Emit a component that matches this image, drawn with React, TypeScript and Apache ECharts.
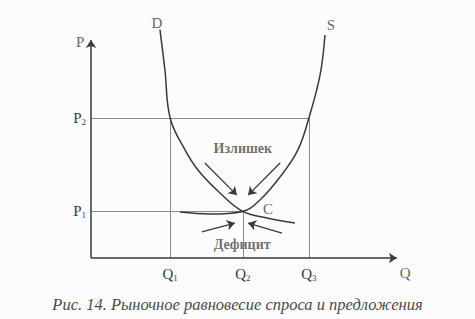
import React, { useEffect, useRef } from "react";
import * as echarts from "echarts";

// Demand curve D (Q, P)
const demandQ = [20.9, 22.4, 24, 28.5, 32.4, 39.1, 46, 53.3, 61.8];
const demandP = [98, 80.7, 60, 46.4, 37.8, 27.9, 20, 17.2, 15];
// Supply curve S (Q, P)
const supplyQ = [70.9, 69.4, 66, 62.7, 57.3, 51.2, 46, 36.1, 27];
const supplyP = [95.7, 78.5, 60, 46.4, 34.8, 24.9, 20, 18.9, 19.7];

// Tick values and labels
const qTicks = [24, 46, 66];
const qTickLabels = ["1", "2", "3"];
const pTicks = [20, 60];
const pTickLabels = ["1", "2"];

// Axis extents (arrow tips)
const pAxisTop = 93.6;
const qAxisEnd = 92.7;

// Adjustment arrows: [fromQ, fromP, toQ, toP]
const surplusArrows = [
  [34.5, 40.8, 44.2, 27.0],
  [57.3, 40.8, 47.6, 27.0],
];
const deficitArrows = [
  [33.6, 11.2, 43.6, 15.0],
  [57.9, 10.7, 47.6, 15.0],
];

// Annotations: [text, Q, P]
const annotations: [string, number, number][] = [
  ["P", -3.3, 92.7],
  ["Q", 95.2, -6.4],
  ["D", 20, 101],
  ["S", 72.7, 100],
  ["C", 53.6, 21],
];
const surplusLabel: [string, number, number] = ["Излишек", 46, 47.2];
const deficitLabel: [string, number, number] = ["Дефицит", 45.8, 6];

const caption = "Рис. 14. Рыночное равновесие спроса и предложения";

const INK = "#3a3a3a";
const GUIDE = "#8a8a8a";
const SERIF = "'Liberation Serif', 'DejaVu Serif', serif";

export default function App() {
  const ref = useRef<HTMLDivElement>(null);
  useEffect(() => {
    if (!ref.current) return;
    const chart = echarts.init(ref.current, undefined, { renderer: "svg" });
    const eq = [qTicks[1], pTicks[0]];
    const guides = [
      [[0, pTicks[1]], [qTicks[2], pTicks[1]]],
      [[qTicks[0], pTicks[1]], [qTicks[0], 0]],
      [[qTicks[2], pTicks[1]], [qTicks[2], 0]],
      [[0, pTicks[0]], [eq[0], eq[1]]],
      [[eq[0], eq[1]], [qTicks[1], 0]],
    ];
    const rich = {
      m: { fontFamily: SERIF, fontSize: 15, color: INK },
      s: { fontFamily: SERIF, fontSize: 9, color: INK, padding: [7, 0, 0, 0] },
    };
    chart.setOption({
      animation: false,
      backgroundColor: "#fcfcfc",
      title: {
        text: caption,
        left: "center",
        top: 291,
        textStyle: {
          fontFamily: SERIF,
          fontStyle: "italic",
          fontWeight: "normal",
          fontSize: 16.5,
          color: "#4a4a4a",
        },
      },
      grid: { left: 91, top: 25, right: 54, bottom: 61 },
      xAxis: {
        type: "value",
        min: 0,
        max: 100,
        axisLine: { show: false },
        axisTick: { show: false },
        splitLine: { show: false },
        axisLabel: {
          customValues: qTicks,
          margin: 8,
          formatter: (v: number) => {
            const i = qTicks.indexOf(v);
            return i < 0 ? "" : `{m|Q}{s|${qTickLabels[i]}}`;
          },
          rich,
        },
      },
      yAxis: {
        type: "value",
        min: 0,
        max: 100,
        axisLine: { show: false },
        axisTick: { show: false },
        splitLine: { show: false },
        axisLabel: {
          customValues: pTicks,
          margin: 5,
          formatter: (v: number) => {
            const i = pTicks.indexOf(v);
            return i < 0 ? "" : `{m|P}{s|${pTickLabels[i]}}`;
          },
          rich,
        },
      },
      series: [
        {
          type: "lines",
          coordinateSystem: "cartesian2d",
          silent: true,
          clip: false,
          z: 1,
          symbol: ["none", "none"],
          lineStyle: { color: GUIDE, width: 1, curveness: 0, opacity: 1 },
          data: guides.map((c) => ({ coords: c })),
        },
        {
          type: "lines",
          coordinateSystem: "cartesian2d",
          silent: true,
          clip: false,
          z: 3,
          symbol: ["none", "arrow"],
          symbolSize: 8,
          lineStyle: { color: INK, width: 1.5, curveness: 0, opacity: 1 },
          data: [
            { coords: [[0, 0], [0, pAxisTop]] },
            { coords: [[0, 0], [qAxisEnd, 0]] },
          ],
        },
        {
          type: "lines",
          coordinateSystem: "cartesian2d",
          silent: true,
          clip: false,
          z: 3,
          symbol: ["none", "arrow"],
          symbolSize: 8,
          lineStyle: { color: INK, width: 1.3, curveness: 0, opacity: 1 },
          data: [...surplusArrows, ...deficitArrows].map((a) => ({
            coords: [[a[0], a[1]], [a[2], a[3]]],
          })),
        },
        {
          type: "line",
          name: "D",
          clip: false,
          smooth: 0.4,
          showSymbol: false,
          z: 4,
          lineStyle: { color: INK, width: 1.5 },
          data: demandQ.map((q, i) => [q, demandP[i]]),
        },
        {
          type: "line",
          name: "S",
          clip: false,
          smooth: 0.4,
          showSymbol: false,
          z: 4,
          lineStyle: { color: INK, width: 1.5 },
          data: supplyQ.map((q, i) => [q, supplyP[i]]),
        },
        {
          type: "scatter",
          clip: false,
          silent: true,
          symbolSize: 0,
          z: 5,
          label: {
            show: true,
            position: "inside",
            fontFamily: SERIF,
            fontSize: 15,
            color: INK,
            formatter: (p: any) => p.data.name,
          },
          data: annotations.map(([t, q, p]) => ({ name: t, value: [q, p] })),
        },
        {
          type: "scatter",
          clip: false,
          silent: true,
          symbolSize: 0,
          z: 5,
          label: {
            show: true,
            position: "inside",
            fontFamily: SERIF,
            fontSize: 14,
            fontWeight: "bold",
            color: "#4a4a4a",
            formatter: (p: any) => p.data.name,
          },
          data: [surplusLabel, deficitLabel].map(([t, q, p]) => ({
            name: t,
            value: [q, p],
          })),
        },
      ],
    });
    return () => chart.dispose();
  }, []);
  return (
    <div
      ref={ref}
      style={{ position: "absolute", left: 0, top: 0, width: 475, height: 319 }}
    />
  );
}
